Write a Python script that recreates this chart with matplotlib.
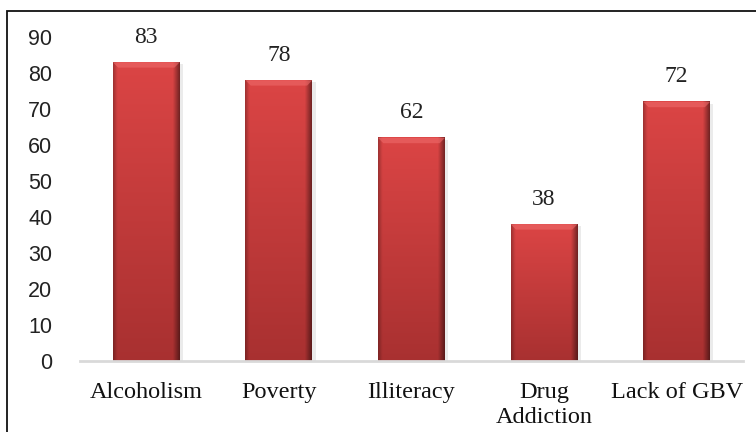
import matplotlib.pyplot as plt
import numpy as np
from matplotlib.patches import Polygon, Rectangle

categories = ["Alcoholism", "Poverty", "Illiteracy", "Drug\nAddiction", "Lack of GBV"]
values = [83, 78, 62, 38, 72]
yticks = [0, 10, 20, 30, 40, 50, 60, 70, 80, 90]


def bar_image(n_rows=200, n_cols=60):
    # vertical shade: lighter at top, darker at bottom
    top = np.array([0.86, 0.27, 0.27])
    bottom = np.array([0.66, 0.19, 0.19])
    t = np.linspace(0, 1, n_rows)[:, None, None]
    img = top * (1 - t) + bottom * t
    # horizontal shade: darker towards the edges, mostly the right one
    x = np.linspace(0, 1, n_cols)
    edge = np.ones_like(x)
    edge -= 0.25 * np.clip((0.06 - x) / 0.06, 0, 1)
    edge -= 0.45 * np.clip((x - 0.90) / 0.10, 0, 1)
    return np.clip(img * edge[None, :, None], 0, 1)


def main():

    fig = plt.figure(figsize=(7.56, 4.32), dpi=100)
    ax = fig.add_axes([80 / 756, 71 / 432, 663 / 756, 324 / 432])

    xs = np.arange(len(categories))
    width = 0.505

    # ----------------------------------------------------
    # Bars with shading
    # ----------------------------------------------------

    bars = ax.bar(xs, values, width=width, color="#cc3b3b", zorder=2)
    img = bar_image()

    for bar, v in zip(bars, values):

        x0 = bar.get_x()
        x1 = x0 + bar.get_width()

        # faint shadow on the right
        ax.add_patch(Rectangle((x1, 0), 0.025, v - 0.5, color="#000000",
                               alpha=0.08, lw=0, zorder=1))

        ax.imshow(img, extent=(x0, x1, 0, v), aspect="auto",
                  origin="upper", zorder=3, interpolation="bilinear")

        # bevelled top
        d = 0.04
        e = 1.5
        ax.add_patch(Polygon([(x0, v), (x1, v), (x1 - d, v - e), (x0 + d, v - e)],
                             closed=True, color="#ee6a6a", alpha=0.6, lw=0,
                             zorder=4))

        ax.text(bar.get_x() + bar.get_width() / 2, v + 4.0, str(v),
                ha="center", va="bottom", fontsize=17,
                family="Liberation Serif", color="#222222")

    ax.set_xlim(-0.5, len(categories) - 0.5)
    ax.set_ylim(0, 90)

    ax.set_yticks(yticks)
    ax.set_yticklabels([str(t) for t in yticks], family="Liberation Sans",
                       fontsize=15.5, color="#222222")
    ax.set_xticks(xs)
    ax.set_xticklabels(categories, family="Liberation Serif", fontsize=17.5,
                       color="#111111", linespacing=1.25)

    ax.tick_params(axis="y", length=0, pad=20)
    ax.tick_params(axis="x", length=0, pad=15)

    for side in ["top", "right", "left"]:
        ax.spines[side].set_visible(False)
    ax.spines["bottom"].set_color("#d9d9d9")
    ax.spines["bottom"].set_linewidth(2)
    ax.spines["bottom"].set_zorder(5)

    # ----------------------------------------------------
    # Outer frame (runs off right and bottom)
    # ----------------------------------------------------

    fig.patches.append(Rectangle((7 / 756, -0.2), 1.2, (421 / 432) + 0.2,
                                 transform=fig.transFigure, fill=False,
                                 edgecolor="#111111", linewidth=1.3))

    fig.savefig("out.png", dpi=100)
    plt.close(fig)


if __name__ == "__main__":
    main()
